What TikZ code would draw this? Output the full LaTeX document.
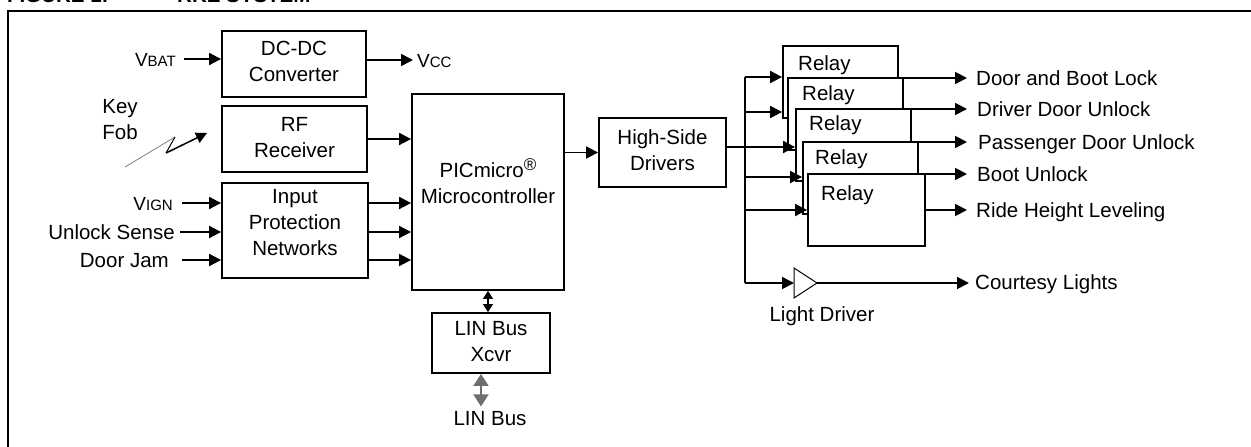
\documentclass[tikz,border=0pt]{standalone}
\usepackage{fontspec}
\setmainfont{Liberation Sans}
\usetikzlibrary{arrows.meta}
\definecolor{lingray}{HTML}{6E6E6E}
\definecolor{zapgray}{HTML}{808080}
\begin{document}
\begin{tikzpicture}[x=1pt,y=-1pt,
  lw/.style={line width=1.8pt},
  arr/.style={line width=1.8pt,-{Triangle[length=12pt,width=12pt]}},
  blk/.style={draw,line width=1.8pt,inner sep=0pt},
  txt/.style={font=\fontsize{20.5}{26}\selectfont,align=center,inner sep=0pt},
  lbl/.style={font=\fontsize{20.5}{26}\selectfont,inner sep=0pt,text height=14.7pt,text depth=0pt},
  relaybox/.style={draw,fill=white,line width=1.8pt,minimum width=115pt,minimum height=72pt,inner sep=0pt},
  ttl/.style={font=\bfseries\fontsize{20.5}{24}\selectfont,inner sep=0pt,anchor=base west}]
\newcommand{\smc}[1]{{\fontsize{15}{18}\selectfont #1}}
\useasboundingbox (0,0) rectangle (1251,447);
\clip (0,0) rectangle (1251,447);
% title and frame
\node[ttl] (t1) at (7,2) {FIGURE 1:};
\node[ttl] (t2) at (177,2) {RKE SYSTEM};
\draw[line width=2.2pt] (8.3,470) -- (8.3,11) -- (1270,11);
% blocks
\node[blk,minimum width=144pt,minimum height=66pt] (dcdc) at (294,64) {};
\node[txt] at (294,61) {DC-DC\\Converter};
\node[blk,minimum width=145pt,minimum height=66pt] (rf) at (294.5,139) {};
\node[txt] at (294.5,138) {RF\\Receiver};
\node[blk,minimum width=146pt,minimum height=95pt] (ipn) at (295,230.5) {};
\node[txt] at (295,223) {Input\\Protection\\Networks};
\node[blk,minimum width=152pt,minimum height=196pt] (mcu) at (488,192) {};
\node[txt] at (488,183.5) {PICmicro\smash{\raisebox{7.5pt}{\fontsize{17}{17}\selectfont ®}}\\Microcontroller};
\node[blk,minimum width=127pt,minimum height=69pt] (hsd) at (662.5,152.5) {};
\node[txt] at (662.5,150) {High-Side\\Drivers};
\node[blk,minimum width=118pt,minimum height=60pt] (xcvr) at (491,343) {};
\node[txt] at (491,341.5) {LIN Bus\\Xcvr};
% left inputs
\node[lbl,anchor=east] (vbat) at (176,59) {{\fontsize{19}{22}\selectfont V}\smc{BAT}};
\draw[arr] ([xshift=8pt]vbat.east) -- (vbat.east -| dcdc.west);
\node[lbl,anchor=west] (vcc) at (417,60) {{\fontsize{19}{22}\selectfont V}\smc{CC}};
\draw[arr] (vcc.west -| dcdc.east) -- ([xshift=-4pt]vcc.west);
\node[txt] (fob) at (120,120) {Key\\Fob};
\coordinate (z0) at (125,167);
\coordinate (z1) at (175,137);
\coordinate (z2) at (166,153);
\coordinate (z3) at (207,133);
\draw[zapgray,line width=0.8pt] (z0) -- (z1);
\draw[line width=1pt] (z1) -- (z2);
\draw[line width=1.5pt,-{Triangle[length=11pt,width=11pt]}] (z2) -- (z3);
\draw[arr] (rf.east) -- (rf.east -| mcu.west);
\node[lbl,anchor=east] (vign) at (173,203) {{\fontsize{19}{22}\selectfont V}\smc{IGN}};
\node[lbl,anchor=east] (unl) at (175,232) {Unlock Sense};
\node[lbl,anchor=east] (dj) at (169,260) {Door Jam};
\draw[arr] ([xshift=9pt]vign.east) -- (vign.east -| ipn.west);
\draw[arr] ([xshift=5pt]unl.east) -- (unl.east -| ipn.west);
\draw[arr] ([xshift=13pt]dj.east) -- (dj.east -| ipn.west);
\draw[arr] (ipn.east |- vign) -- (mcu.west |- vign);
\draw[arr] (ipn.east |- unl) -- (mcu.west |- unl);
\draw[arr] (ipn.east |- dj) -- (mcu.west |- dj);
\draw[arr] (mcu.east |- hsd.west) -- (hsd.west);
% LIN bus
\draw[line width=1.2pt,{Triangle[length=8pt,width=10pt]}-{Triangle[length=8pt,width=10pt]}] (mcu.south) -- (mcu.south |- xcvr.north);
\node[lbl] (linlbl) at (490,418) {LIN Bus};
\coordinate (gx) at (481,0);
\draw[lingray,line width=1.5pt,{Triangle[length=12pt,width=15pt]}-{Triangle[length=12pt,width=15pt]}] (xcvr.south -| gx) -- ([yshift=4pt]gx |- linlbl.north);
% relays
\node[relaybox] (r1) at (840.5,82) {};
\node[lbl,anchor=west] at (798,63) {Relay};
\node[relaybox] (r2) at (845.5,114) {};
\node[lbl,anchor=west] at (802,93) {Relay};
\node[relaybox] (r3) at (853.5,145) {};
\node[lbl,anchor=west] at (809,123) {Relay};
\node[relaybox] (r4) at (860.5,178) {};
\node[lbl,anchor=west] at (815,157) {Relay};
\node[relaybox,minimum width=117pt] (r5) at (866.5,210) {};
\node[lbl,anchor=west] at (821,193) {Relay};
% outputs
\node[lbl,anchor=west] (o1) at (976,78) {Door and Boot Lock};
\node[lbl,anchor=west] (o2) at (977,109) {Driver Door Unlock};
\node[lbl,anchor=west] (o3) at (978,142) {Passenger Door Unlock};
\node[lbl,anchor=west] (o4) at (977,174) {Boot Unlock};
\node[lbl,anchor=west] (o5) at (976,210) {Ride Height Leveling};
\draw[arr] (r1.east |- o1) -- ([xshift=-9pt]o1.west);
\draw[arr] (r2.east |- o2) -- ([xshift=-10pt]o2.west);
\draw[arr] (r3.east |- o3) -- ([xshift=-11pt]o3.west);
\draw[arr] (r4.east |- o4) -- ([xshift=-10pt]o4.west);
\draw[arr] (r5.east |- o5) -- ([xshift=-9pt]o5.west);
% bus and relay inputs
\coordinate (bt) at (745,77);
\coordinate (b2) at (745,112);
\coordinate (y3) at (0,147);
\coordinate (b4) at (745,177);
\coordinate (b5) at (745,210);
\coordinate (bb) at (745,283);
\draw[lw] (bt) -- (bb);
\draw[arr] (bt) -- (bt -| r1.west);
\draw[arr] (b2) -- (b2 -| r1.west);
\draw[arr] (hsd.east |- y3) -- (r3.west |- y3);
\draw[arr] (b4) -- (b4 -| r4.west);
\draw[arr] (b5) -- (r5.west);
% light driver
\coordinate (ldl) at (794,283);
\coordinate (ldt) at (817,283);
\draw[line width=1pt] (794,268) -- (ldt) -- (794,298) -- cycle;
\draw[arr] (bb) -- (ldl);
\node[lbl] (ldlbl) at (822,314) {Light Driver};
\node[lbl,anchor=west] (cl) at (975,282) {Courtesy Lights};
\draw[arr] (ldt) -- ([xshift=-6pt]cl.west |- ldt);
\end{tikzpicture}
\end{document}
